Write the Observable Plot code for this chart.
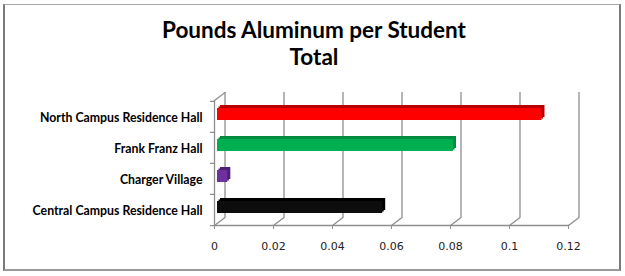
<!DOCTYPE html>
<html>
<head>
<meta charset="utf-8">
<script src="https://cdn.jsdelivr.net/npm/d3@7"></script>
<script src="https://cdn.jsdelivr.net/npm/@observablehq/plot@0.6"></script>
<style>
  html, body { margin: 0; padding: 0; background: #fff; }
  #wrap { position: relative; width: 625px; height: 276px; overflow: hidden; background: #fff; }
  #border { position: absolute; left: 3px; top: 4px; width: 618px; height: 267px;
            border-top: 1px solid #a6a6a6; border-left: 2px solid #7a7a7a;
            border-right: 2px solid #7a7a7a; border-bottom: 2px solid #9a9a9a; box-sizing: border-box; }
  #title { position: absolute; left: 0; top: 16px; width: 628px; text-align: center;
           font-family: Lato, "Open Sans", sans-serif; font-weight: 700; font-size: 22.5px;
           line-height: 27px; color: #000; }
  #chart { position: absolute; left: 0; top: 80px; }
</style>
</head>
<body>
<div id="wrap">
  <div id="border"></div>
  <div id="title">Pounds Aluminum per Student<br>Total</div>
  <div id="chart"></div>
</div>
<script>
const categories = ["North Campus Residence Hall", "Frank Franz Hall", "Charger Village", "Central Campus Residence Hall"];
const values = [0.110, 0.080, 0.0035, 0.056];
const frontColors = ["#ff0000", "#00b050", "#7030a0", "#0d0d0d"];
const topColors = ["#b80000", "#008a3e", "#4f1f74", "#000000"];
const xTicks = [0, 0.02, 0.04, 0.06, 0.08, 0.1, 0.12];
const xTickLabels = ["0", "0.02", "0.04", "0.06", "0.08", "0.1", "0.12"];

const data = categories.map((c, i) => ({cat: c, value: values[i], front: frontColors[i], top: topColors[i]}));

const W = 625, H = 180;
const mL = 214, mR = 57, mT = 20, mB = 35;
const bw = (H - mT - mB) / categories.length;
const depthX = 10.5, depthY = -8;
const depthAngle = Math.atan2(depthX, -depthY) * 180 / Math.PI;
const depthLen = Math.hypot(depthX, depthY);
const lineShape = { draw(context, l) { context.moveTo(0, 0); context.lineTo(0, -l); } };
const gridColor = "#8e8e8e";

const chart = Plot.plot({
  width: W, height: H,
  marginLeft: mL, marginRight: mR, marginTop: mT, marginBottom: mB,
  style: { background: "transparent", overflow: "visible" },
  x: { domain: [0, 0.12], label: null },
  y: { domain: categories, padding: 0, label: null },
  marks: [
    Plot.ruleX(xTicks, { x: d => d, dx: depthX, dy: depthY, stroke: gridColor, strokeWidth: 1.3 }),
    Plot.ruleX([0], { stroke: gridColor, strokeWidth: 1.3 }),
    Plot.vector([0], { x: d => d, frameAnchor: "top", rotate: depthAngle, length: depthLen, anchor: "start", shape: lineShape, stroke: gridColor, strokeWidth: 1.3 }),
    Plot.vector(xTicks, { x: d => d, frameAnchor: "bottom", rotate: depthAngle, length: depthLen, anchor: "start", shape: lineShape, stroke: gridColor, strokeWidth: 1.3 }),
    Plot.frame({ anchor: "bottom", stroke: gridColor, strokeWidth: 1.3 }),
    Plot.vector(categories, { y: d => d, frameAnchor: "left", rotate: -90, length: 4, anchor: "start", shape: lineShape, dy: -bw / 2, stroke: gridColor, strokeWidth: 1.3 }),
    Plot.vector(categories.slice(-1), { y: d => d, frameAnchor: "left", rotate: -90, length: 4, anchor: "start", shape: lineShape, dy: bw / 2, stroke: gridColor, strokeWidth: 1.3 }),
    Plot.barX(data, { x: "value", y: "cat", fill: "top", insetTop: 9.5, insetBottom: 9.5, dx: 6, dy: -5.5 }),
    Plot.barX(data, { x: "value", y: "cat", fill: "top", insetTop: 9.5, insetBottom: 9.5, dx: 4.5, dy: -4 }),
    Plot.barX(data, { x: "value", y: "cat", fill: "front", insetTop: 9.5, insetBottom: 9.5, dx: 3, dy: -2.5 }),
    Plot.axisX({ ticks: xTicks, tickSize: 4, tickPadding: 13, stroke: gridColor, fill: "#222", label: null,
                 fontFamily: "DejaVu Sans", fontSize: 11, tickFormat: (d) => xTickLabels[xTicks.indexOf(d)] }),
    Plot.axisY({ tickSize: 0, tickPadding: 12, fill: "#000", label: null, fontFamily: "Lato", fontWeight: 700, fontSize: 12.3, dy: 1 })
  ]
});
document.getElementById("chart").appendChild(chart);
</script>
</body>
</html>
